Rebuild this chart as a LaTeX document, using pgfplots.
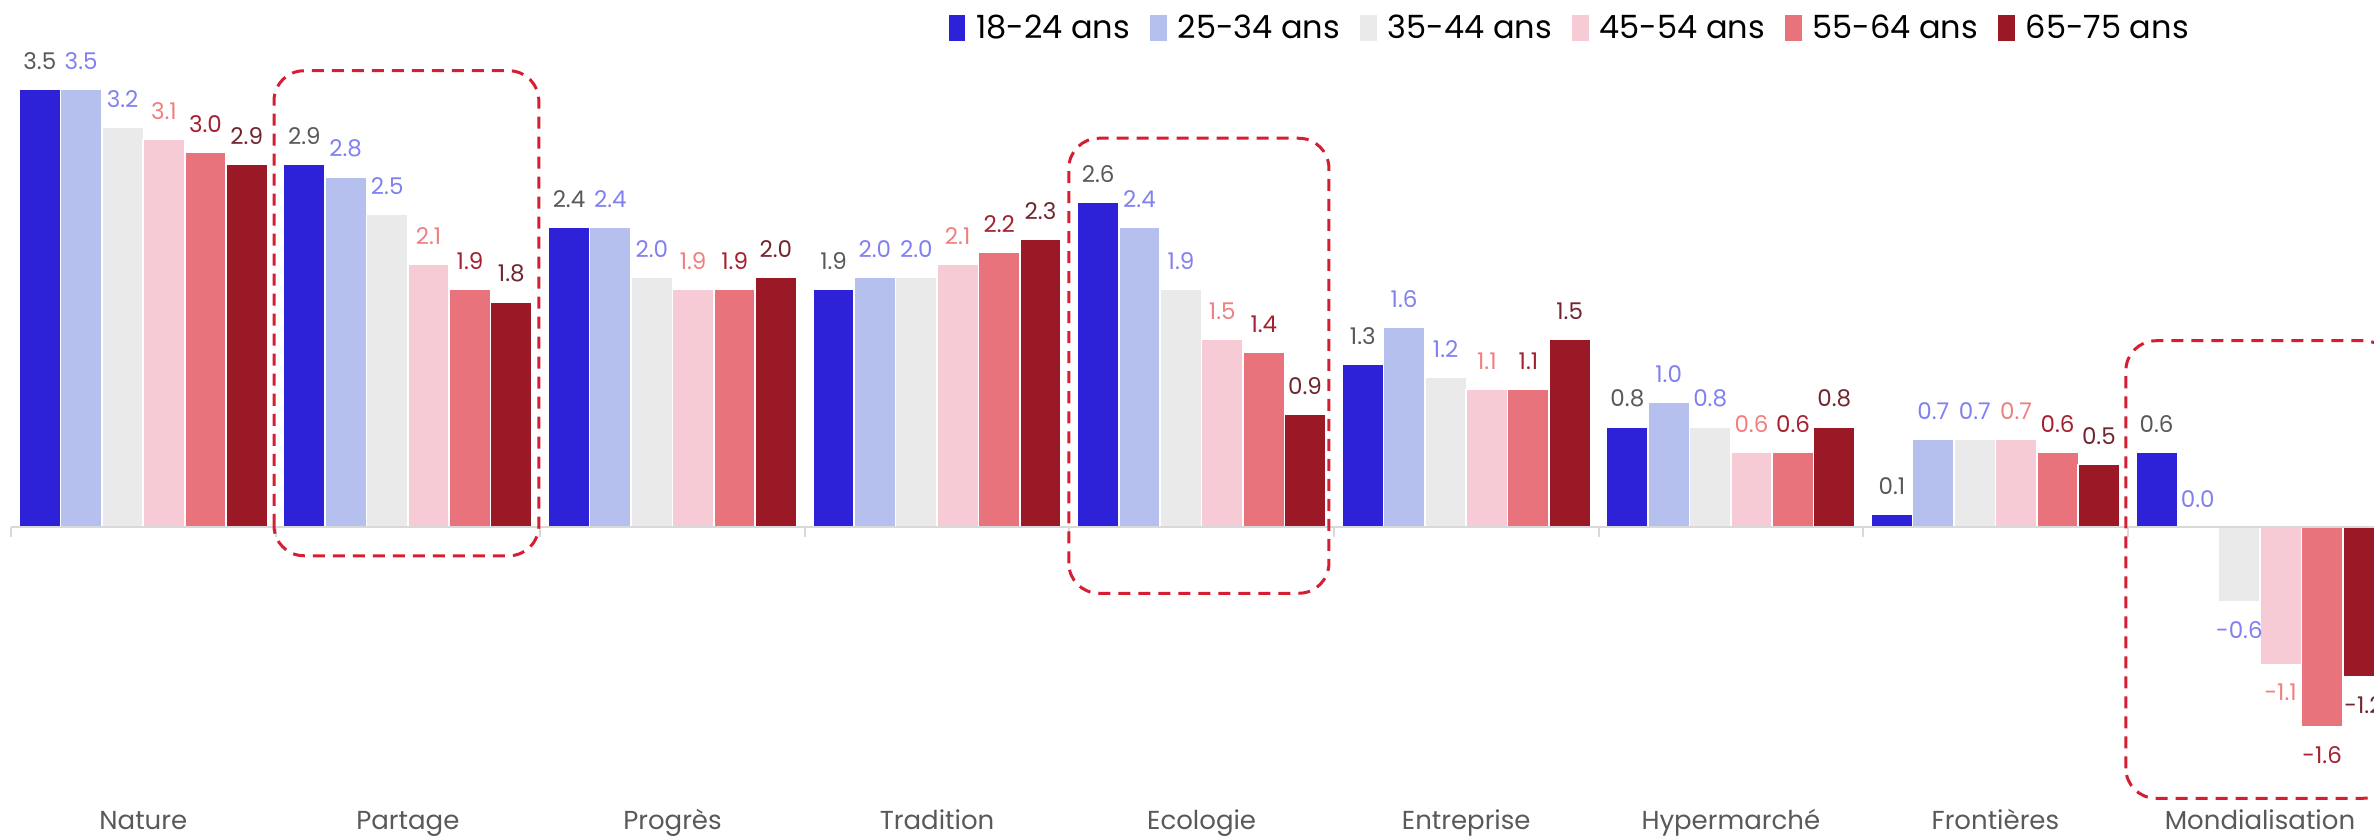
\documentclass[border=0pt]{standalone}
\usepackage{fontspec}
\setmainfont{Poppins}
\usepackage{pgfplots}
\usepackage{pgfplotstable}
\pgfplotsset{compat=1.18}

% bar fills
\definecolor{cA}{RGB}{46,34,216}
\definecolor{cB}{RGB}{182,192,239}
\definecolor{cC}{RGB}{234,234,234}
\definecolor{cD}{RGB}{246,203,213}
\definecolor{cE}{RGB}{233,115,124}
\definecolor{cF}{RGB}{155,24,38}
% value label colours
\definecolor{lA}{RGB}{89,89,89}
\definecolor{lB}{RGB}{128,128,240}
\definecolor{lD}{RGB}{240,128,128}
\definecolor{lE}{RGB}{165,32,48}
\definecolor{lF}{RGB}{112,38,46}
\definecolor{boxred}{RGB}{214,30,50}
\definecolor{zline}{RGB}{217,217,217}

% x: 0 Nature ... 8 Mondialisation
\pgfplotstableread{
x a b c d e f
0 3.5 3.5 3.2 3.1 3.0 2.9
1 2.9 2.8 2.5 2.1 1.9 1.8
2 2.4 2.4 2.0 1.9 1.9 2.0
3 1.9 2.0 2.0 2.1 2.2 2.3
4 2.6 2.4 1.9 1.5 1.4 0.9
5 1.3 1.6 1.2 1.1 1.1 1.5
6 0.8 1.0 0.8 0.6 0.6 0.8
7 0.1 0.7 0.7 0.7 0.6 0.5
8 0.6 0.0 -0.6 -1.1 -1.6 -1.2
}\scores

\pgfplotsset{
  agebar/.style={draw=white, line width=0.75pt,
    legend image code/.code={\fill[##1,draw=none] (0pt,-6.5pt) rectangle (8.3pt,6.5pt);}},
}

\begin{document}
\begin{tikzpicture}
\begin{axis}[
    at={(5.5pt,0pt)}, anchor=south west,
    scale only axis,
    width=1190.7pt, height=418.5pt,
    xmin=-0.5, xmax=8.5,
    ymin=-2.48, ymax=4.216,
    clip=false,
    ybar, bar width=0.1565,
    axis line style={draw=none},
    tick style={draw=none},
    major tick length=0pt,
    ytick=\empty,
    xtick={0,...,8},
    xticklabels={Nature,Partage,Progrès,Tradition,Ecologie,Entreprise,Hypermarché,Frontières,Mondialisation},
    xticklabel style={font=\fontsize{13}{14}\selectfont, text=lA, anchor=base, yshift=4pt},
    nodes near coords={\pgfmathprintnumber[fixed, fixed zerofill, precision=1, assume math mode=true]{\pgfplotspointmeta}},
    nodes near coords align=vertical,
    every node near coord/.append style={font=\fontsize{11.5}{12}\selectfont, inner ysep=9.5pt, inner xsep=0pt},
    legend columns=6,
    legend style={draw=none, fill=none, at={(rel axis cs:0.391,0.966)}, anchor=west,
      font=\fontsize{16}{17}\selectfont,
      /tikz/every even column/.append style={column sep=8pt},
      /tikz/every odd column/.append style={column sep=3.5pt}},
    legend cell align=left,
]
\addplot[agebar, fill=cA, bar shift=-0.391, every node near coord/.append style={text=lA}] table[x=x, y=a] {\scores};
\addlegendentry{18-24 ans}
\addplot[agebar, fill=cB, bar shift=-0.235, every node near coord/.append style={text=lB}] table[x=x, y=b] {\scores};
\addlegendentry{25-34 ans}
\addplot[agebar, fill=cC, bar shift=-0.078, every node near coord/.append style={text=lB}] table[x=x, y=c] {\scores};
\addlegendentry{35-44 ans}
\addplot[agebar, fill=cD, bar shift=0.078, every node near coord/.append style={text=lD}] table[x=x, y=d] {\scores};
\addlegendentry{45-54 ans}
\addplot[agebar, fill=cE, bar shift=0.235, every node near coord/.append style={text=lE}] table[x=x, y=e] {\scores};
\addlegendentry{55-64 ans}
\addplot[agebar, fill=cF, bar shift=0.391, every node near coord/.append style={text=lF}] table[x=x, y=f] {\scores};
\addlegendentry{65-75 ans}

% baseline with group separators
\draw[zline, line width=1pt] (axis cs:-0.5,0) -- (axis cs:8.5,0);
\pgfplotsinvokeforeach{-0.5,0.5,1.5,2.5,3.5,4.5,5.5,6.5,7.5}{
  \draw[zline, line width=1pt] (axis cs:#1,0) -- ++(0pt,-5pt);
}

% highlighted groups
\draw[boxred, line width=1.5pt, dash pattern=on 6pt off 4pt, rounded corners=15pt]
  (axis cs:0.494,-0.23) rectangle (axis cs:1.495,3.65);
\draw[boxred, line width=1.5pt, dash pattern=on 6pt off 4pt, rounded corners=15pt]
  (axis cs:3.498,-0.53) rectangle (axis cs:4.481,3.11);
\draw[boxred, line width=1.5pt, dash pattern=on 6pt off 4pt, rounded corners=15pt]
  (axis cs:7.493,-2.17) rectangle (axis cs:8.505,1.49);
\end{axis}
\pgfresetboundingbox
\useasboundingbox (0pt,0pt) rectangle (1187pt,418.5pt);
\end{tikzpicture}
\end{document}
